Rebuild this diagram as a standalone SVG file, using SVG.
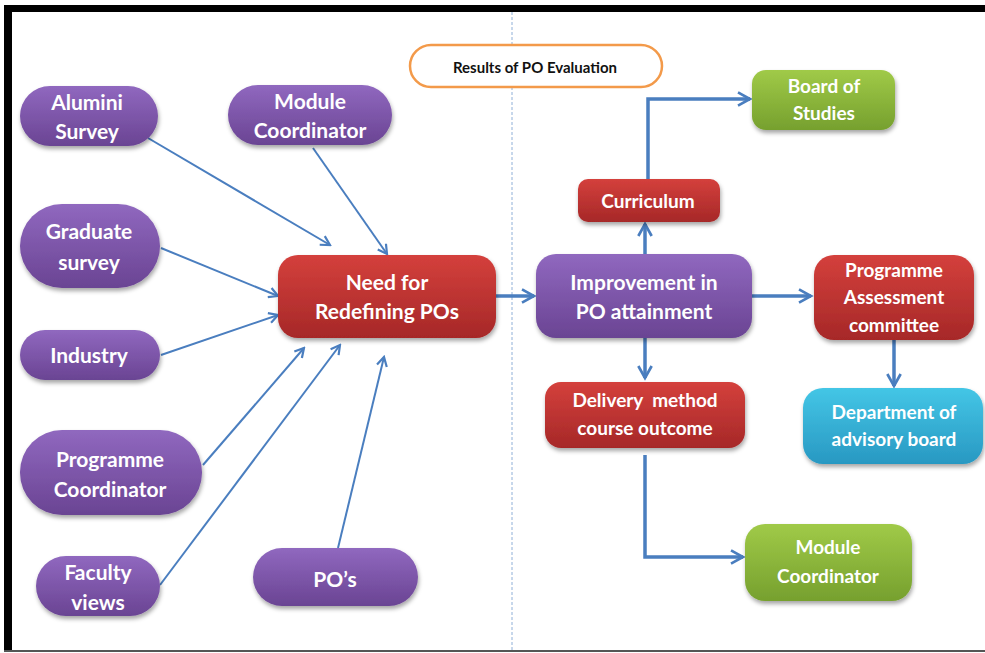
<svg xmlns="http://www.w3.org/2000/svg" width="985" height="653" viewBox="0 0 985 653">
<defs>
<linearGradient id="gP" x1="0" y1="0" x2="0" y2="1"><stop offset="0" stop-color="#9068bf"/><stop offset="1" stop-color="#6a4493"/></linearGradient>
<linearGradient id="gR" x1="0" y1="0" x2="0" y2="1"><stop offset="0" stop-color="#d4403c"/><stop offset="1" stop-color="#a62828"/></linearGradient>
<linearGradient id="gG" x1="0" y1="0" x2="0" y2="1"><stop offset="0" stop-color="#a0ca48"/><stop offset="1" stop-color="#76a02e"/></linearGradient>
<linearGradient id="gC" x1="0" y1="0" x2="0" y2="1"><stop offset="0" stop-color="#44c6e6"/><stop offset="1" stop-color="#2898c2"/></linearGradient>
<filter id="sh" x="-10%" y="-10%" width="120%" height="130%"><feDropShadow dx="1" dy="3" stdDeviation="2" flood-color="#000" flood-opacity="0.35"/></filter>
<marker id="ah" viewBox="0 0 12 12" refX="10" refY="6" markerWidth="12" markerHeight="12" markerUnits="userSpaceOnUse" orient="auto"><path d="M1,1 L10,6 L1,11" fill="none" stroke="#4a7ebf" stroke-width="2.2"/></marker>
<marker id="ahb" viewBox="0 0 12 12" refX="10" refY="6" markerWidth="16" markerHeight="16" markerUnits="userSpaceOnUse" orient="auto"><path d="M1,1 L10,6 L1,11" fill="none" stroke="#4a7ebf" stroke-width="2"/></marker>
</defs>
<style>
.t{font-family:Lato,"Open Sans","Liberation Sans",sans-serif;font-weight:700;font-size:21px;fill:#fff;text-anchor:middle;white-space:pre}
.d{font-family:Lato,"Open Sans","Liberation Sans",sans-serif;font-weight:700;font-size:15px;fill:#111;text-anchor:middle}
.p{fill:url(#gP);filter:url(#sh)}
.r{fill:url(#gR);filter:url(#sh)}
.g{fill:url(#gG);filter:url(#sh)}
.c{fill:url(#gC);filter:url(#sh)}
.ln{fill:none;stroke:#4a7ebf;stroke-width:2;marker-end:url(#ah)}
.lb{fill:none;stroke:#4a7ebf;stroke-width:3.5;marker-end:url(#ahb)}
</style>
<rect x="0" y="0" width="985" height="653" fill="#fff"/>
<rect x="4" y="5" width="981" height="7" fill="#000"/>
<rect x="4" y="5" width="8" height="646" fill="#000"/>
<rect x="4" y="650" width="981" height="2" fill="#555"/>
<line x1="512" y1="12" x2="512" y2="650" stroke="#8fb0d8" stroke-width="1" stroke-dasharray="3,2"/>

<g id="connectors">
<path class="ln" d="M148,138 L330,245"/>
<path class="ln" d="M313,148 L387,254"/>
<path class="ln" d="M161,248 L278,296"/>
<path class="ln" d="M161,355 L278,315"/>
<path class="ln" d="M203,465 L304,348"/>
<path class="ln" d="M160,585 L340,345"/>
<path class="ln" d="M338,548 L384,357"/>
<path class="lb" d="M496,296 L534,296"/>
<path class="lb" d="M645,254 L645,224"/>
<path class="lb" d="M648,179 L648,99 L750,99"/>
<path class="lb" d="M752,296 L811,296"/>
<path class="lb" d="M645,338 L645,378"/>
<path class="lb" d="M894,340 L894,386"/>
<path class="lb" d="M645,455 L645,557 L743,557"/>
</g>

<g id="results"><rect x="410" y="45" width="252" height="42" rx="21" fill="#fff" stroke="#f39a4a" stroke-width="2.5"/><text class="d" x="535" y="73">Results of PO Evaluation</text></g>
<g id="alumini"><rect class="p" x="20" y="86" width="138" height="60" rx="30"/><text class="t" x="87" y="110">Alumini</text><text class="t" x="87" y="139">Survey</text></g>
<g id="module1"><rect class="p" x="228" y="85" width="164" height="60" rx="30"/><text class="t" x="310" y="109">Module</text><text class="t" x="310" y="138">Coordinator</text></g>
<g id="graduate"><rect class="p" x="20" y="204" width="140" height="84" rx="42"/><text class="t" x="89" y="239">Graduate</text><text class="t" x="89" y="270">survey</text></g>
<g id="industry"><rect class="p" x="20" y="330" width="140" height="50" rx="25"/><text class="t" x="89" y="363">Industry</text></g>
<g id="progcoord"><rect class="p" x="20" y="430" width="182" height="85" rx="42"/><text class="t" x="110" y="467">Programme</text><text class="t" x="110" y="497">Coordinator</text></g>
<g id="faculty"><rect class="p" x="36" y="556" width="124" height="60" rx="30"/><text class="t" x="98" y="580">Faculty</text><text class="t" x="98" y="610">views</text></g>
<g id="pos"><rect class="p" x="253" y="548" width="165" height="58" rx="29"/><text class="t" x="335" y="587">PO’s</text></g>
<g id="need"><rect class="r" x="278" y="255" width="218" height="83" rx="20"/><text class="t" x="387" y="290">Need for</text><text class="t" x="387" y="319">Redefining POs</text></g>
<g id="improve"><rect class="p" x="536" y="254" width="216" height="84" rx="20"/><text class="t" x="644" y="290">Improvement in</text><text class="t" x="644" y="319">PO attainment</text></g>
<g id="curriculum"><rect class="r" x="578" y="179" width="142" height="43" rx="10"/><text class="t" x="648" y="208" style="font-size:19px">Curriculum</text></g>
<g id="board"><rect class="g" x="752" y="70" width="143" height="60" rx="14"/><text class="t" x="824" y="93" style="font-size:19px">Board of</text><text class="t" x="824" y="120" style="font-size:19px">Studies</text></g>
<g id="progassess"><rect class="r" x="814" y="255" width="160" height="85" rx="20"/><text class="t" x="894" y="277" style="font-size:19px">Programme</text><text class="t" x="894" y="304" style="font-size:19px">Assessment</text><text class="t" x="894" y="332" style="font-size:19px">committee</text></g>
<g id="department"><rect class="c" x="803" y="388" width="180" height="76" rx="20"/><text class="t" x="894" y="419" style="font-size:19px">Department of</text><text class="t" x="894" y="446" style="font-size:19px">advisory board</text></g>
<g id="delivery"><rect class="r" x="545" y="382" width="200" height="66" rx="16"/><text class="t" x="645" y="407" style="font-size:19px">Delivery  method</text><text class="t" x="645" y="435" style="font-size:19px">course outcome</text></g>
<g id="module2"><rect class="g" x="745" y="524" width="167" height="77" rx="20"/><text class="t" x="828" y="554" style="font-size:19px">Module</text><text class="t" x="828" y="583" style="font-size:19px">Coordinator</text></g>
</svg>
